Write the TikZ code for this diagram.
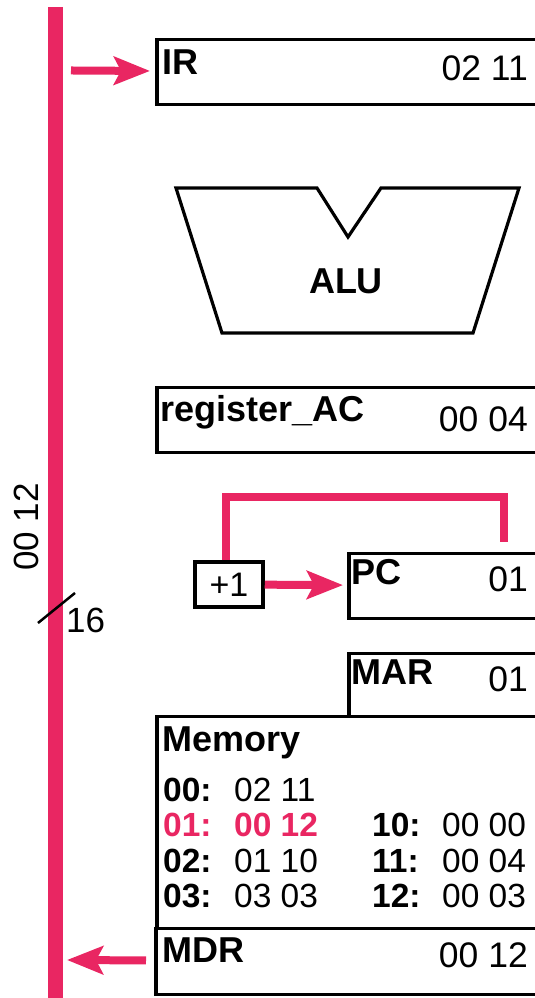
\documentclass[tikz,border=0pt]{standalone}
\usepackage{fontspec}
\setmainfont{Liberation Sans}
\usetikzlibrary{arrows.meta}
\definecolor{buspink}{RGB}{233,38,98}
\tikzset{
  regbox/.style={draw, line width=3.5pt, minimum width=420pt, anchor=north west, inner sep=0pt},
  lbl/.style={inner sep=0pt, anchor=base west, font=\fontsize{36}{40}\selectfont\bfseries},
  val/.style={inner sep=0pt, anchor=base east, font=\fontsize{35.5}{40}\selectfont},
  memlbl/.style={inner sep=0pt, anchor=base west, font=\fontsize{33.5}{38}\selectfont\bfseries},
  memval/.style={inner sep=0pt, anchor=base west, font=\fontsize{33.5}{38}\selectfont},
  busline/.style={buspink, line width=15pt},
  busarrow/.style={buspink, line width=8pt, -{Stealth[length=36pt, width=28pt, inset=7pt]}}
}
\begin{document}
\begin{tikzpicture}[x=10pt,y=10pt]
\clip (0,0) rectangle (53.5,99.8);
\draw[busline] (5.55,99.1) -- (5.55,-1);
\node[rotate=90, inner sep=0pt, font=\fontsize{35}{40}\selectfont] (buswidthval) at (2.6,47.1) {00 12};
\draw[line width=2.5pt] (3.8,37.5) -- (7.5,40.5);
\node[inner sep=0pt, anchor=base west, font=\fontsize{35}{40}\selectfont] (buswidth) at (6.6,36.5) {16};
\node[regbox, minimum height=65pt] (ir) at (15.5,96.0) {};
\node[lbl] (irname) at (16.2,92.3) {IR};
\node[val] (irval) at (52.8,91.7) {02 11};
\coordinate (busIR) at (7.1,92.75);
\draw[busarrow, shorten >=5pt] (busIR) -- (ir);
\draw[line width=3.2pt, line join=miter] (17.6,81.0) -- (31.7,81.0) -- (34.8,76.1) -- (38.1,81.0) -- (51.9,81.0) -- (47.3,66.5) -- (22.2,66.5) -- cycle;
\node[inner sep=0pt, font=\fontsize{36}{40}\selectfont\bfseries] (alu) at (34.6,71.65) {ALU};
\node[regbox, minimum height=65pt] (ac) at (15.5,61.2) {};
\node[lbl] (acname) at (16.0,57.6) {register\_AC};
\node[val] (acval) at (52.8,56.6) {00 04};
\node[draw, line width=3.5pt, minimum width=68pt, minimum height=45pt, inner sep=0pt, font=\fontsize{34}{40}\selectfont] (plus) at (22.9,41.35) {+1};
\node[regbox, minimum height=65pt] (pc) at (34.7,44.6) {};
\node[lbl] (pcname) at (35.1,41.3) {PC};
\node[val] (pcval) at (52.8,40.6) {01};
\draw[busarrow, shorten >=4pt] (plus) -- (pc);
\coordinate (loopTop) at (50.4,50.1);
\coordinate (pcTap) at (50.4,45.6);
\draw[buspink, line width=8pt, line join=miter] ([xshift=-3pt]plus.north) |- (loopTop) -- (pcTap);
\node[regbox, minimum height=212pt] (mem) at (15.5,28.3) {};
\node[regbox, minimum height=63pt] (mar) at (34.7,34.6) {};
\node[lbl] (marname) at (35.1,31.3) {MAR};
\node[val] (marval) at (52.8,30.6) {01};
\node[lbl] (memname) at (16.2,24.6) {Memory};
\node[memlbl] (addr00) at (16.3,19.6) {00:};
\node[memval] (word00) at (23.4,19.6) {02 11};
\node[memlbl, buspink] (addr01) at (16.3,16.1) {01:};
\node[memlbl, buspink] (word01) at (23.4,16.1) {00 12};
\node[memlbl] (addr02) at (16.3,12.5) {02:};
\node[memval] (word02) at (23.4,12.5) {01 10};
\node[memlbl] (addr03) at (16.3,9.0) {03:};
\node[memval] (word03) at (23.4,9.0) {03 03};
\node[memlbl] (addr10) at (37.2,16.1) {10:};
\node[memval] (word10) at (44.2,16.1) {00 00};
\node[memlbl] (addr11) at (37.2,12.5) {11:};
\node[memval] (word11) at (44.2,12.5) {00 04};
\node[memlbl] (addr12) at (37.2,9.0) {12:};
\node[memval] (word12) at (44.2,9.0) {00 03};
\node[regbox, minimum height=66pt] (mdr) at (15.4,7.1) {};
\node[lbl] (mdrname) at (16.2,3.5) {MDR};
\node[val] (mdrval) at (52.8,3.0) {00 12};
\coordinate (busMDR) at (6.7,3.8);
\draw[busarrow, shorten <=8pt] (mdr) -- (busMDR);
\end{tikzpicture}
\end{document}
